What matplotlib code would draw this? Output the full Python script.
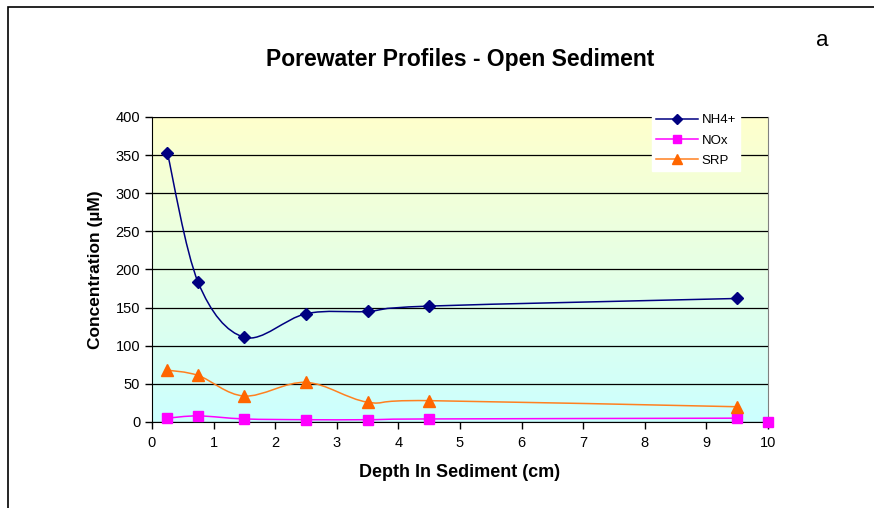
import numpy as np
import matplotlib.pyplot as plt
from matplotlib.path import Path
from matplotlib.patches import PathPatch, Rectangle
from matplotlib.colors import LinearSegmentedColormap

plt.rcParams['font.family'] = ['Liberation Sans', 'DejaVu Sans']

# Data
depth = [0.25, 0.75, 1.5, 2.5, 3.5, 4.5, 9.5]
nh4 = [353, 183, 111, 142, 145, 152, 162]
nox = [5, 8, 4, 3, 3, 4, 5]
srp = [68, 61, 34, 52, 26, 28, 20]
nox_extra_x = [10]
nox_extra_y = [0]


def smooth_path(xs, ys):
    # Excel-style smoothed line: cubic Bezier through the points
    pts = np.column_stack([xs, ys]).astype(float)
    n = len(pts)
    verts = [pts[0]]
    codes = [Path.MOVETO]
    for i in range(n - 1):
        p0 = pts[i - 1] if i > 0 else pts[i]
        p1 = pts[i]
        p2 = pts[i + 1]
        p3 = pts[i + 2] if i + 2 < n else pts[i + 1]
        c1 = p1 + (p2 - p0) / 6
        c2 = p2 - (p3 - p1) / 6
        verts += [c1, c2, p2]
        codes += [Path.CURVE4] * 3
    return Path(verts, codes)


fig = plt.figure(figsize=(8.74, 5.08), dpi=100)
ax = fig.add_axes([0.1739, 0.1693, 0.7048, 0.6004])

# outer frame (only left and top visible)
fig.patches.append(Rectangle((8 / 874, -0.1), 1.2, 1.1 - 7 / 508,
                             transform=fig.transFigure, fill=False,
                             edgecolor='black', lw=1.2))

# gradient background
cmap = LinearSegmentedColormap.from_list('bg', ['#CCFFFF', '#FFFFCC'])
grad = np.linspace(0, 1, 256).reshape(-1, 1)
ax.imshow(grad, extent=[0, 10, 0, 400], origin='lower', aspect='auto',
          cmap=cmap, zorder=0)

ax.set_xlim(0, 10)
ax.set_ylim(0, 400)
ax.set_yticks(np.arange(0, 401, 50))
ax.set_xticks(np.arange(0, 11, 1))
ax.grid(axis='y', color='black', lw=0.9, zorder=1)
ax.set_axisbelow(False)
for s in ax.spines.values():
    s.set_color('#808080')
ax.spines['bottom'].set_color('black')
ax.spines['left'].set_color('black')
ax.tick_params(direction='out', length=5, width=1, labelsize=10.5,
               colors='black')
ax.tick_params(axis='x', pad=5)

series = [
    (nh4, '#000080', '#000080', 'D', 6.5, 'NH4+'),
    (nox, '#FF00FF', '#FF00FF', 's', 7, 'NOx'),
    (srp, '#FF8020', '#FF6600', '^', 8, 'SRP'),
]
handles = []
for vals, lc, mc, mk, ms, lab in series:
    ax.add_patch(PathPatch(smooth_path(depth, vals), fill=False, edgecolor=lc,
                           lw=1.1, zorder=3))
    ax.plot(depth, vals, ls='none', marker=mk, ms=ms, color=mc, zorder=4,
            clip_on=False)
    h, = ax.plot([], [], color=lc, lw=1.1, marker=mk, ms=ms - 1, mfc=mc,
                 mec=mc, label=lab)
    handles.append(h)
ax.plot(nox_extra_x, nox_extra_y, ls='none', marker='s', ms=7,
        color='#FF00FF', zorder=4, clip_on=False)

leg = ax.legend(handles=handles, loc='upper left',
                bbox_to_anchor=(652 / 874, (508 - 110) / 508),
                bbox_transform=fig.transFigure, frameon=True, fancybox=False,
                edgecolor='white', facecolor='white', framealpha=1,
                fontsize=9.5, handlelength=3.2, borderpad=0.3,
                labelspacing=0.62, handletextpad=0.25, borderaxespad=0)
leg.set_zorder(5)

ax.set_title('Porewater Profiles - Open Sediment', fontsize=16.5,
             fontweight='bold', pad=37)
ax.set_xlabel('Depth In Sediment (cm)', fontsize=13, fontweight='bold',
              labelpad=10)
ax.set_ylabel('Concentration (\u00b5M)', fontsize=12.5, fontweight='bold',
              labelpad=9)
fig.text(822 / 874, 1 - 40 / 508, 'a', fontsize=16, ha='center', va='center')

fig.savefig('out.png', dpi=100)
